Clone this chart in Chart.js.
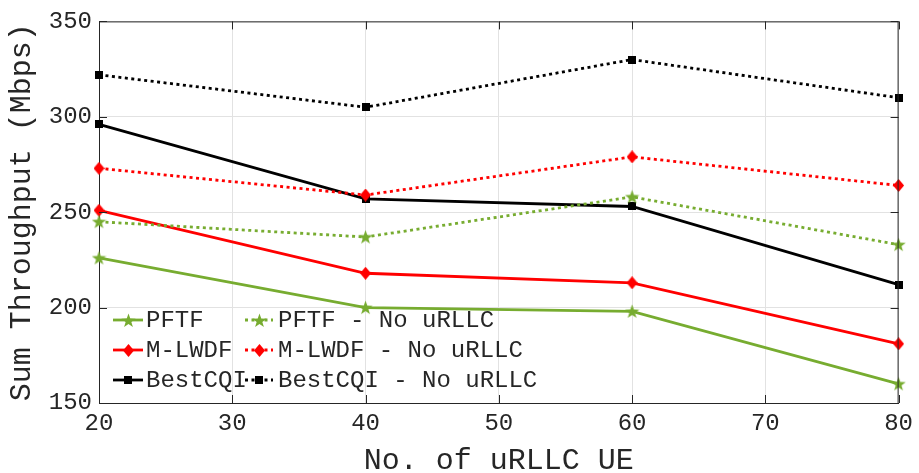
<!DOCTYPE html>
<html>
<head>
<meta charset="utf-8">
<script src="https://cdn.jsdelivr.net/npm/chart.js@4.4.1/dist/chart.umd.min.js"></script>
<style>
  html, body { margin: 0; padding: 0; background: #fff; }
  #wrap { width: 919px; height: 473px; }
</style>
</head>
<body>
<div id="wrap"><canvas id="chart" width="919" height="473"></canvas></div>
<script>
// values
const ueCounts = [20, 40, 60, 80];
const pftf = [226, 200, 198, 160];
const pftfNoUrllc = [245, 237, 258, 233];
const mlwdf = [251, 218, 213, 181];
const mlwdfNoUrllc = [273, 259, 279, 264];
const bestCqi = [296, 257, 253, 212];
const bestCqiNoUrllc = [322, 305, 330, 310];
const xTicks = [20, 30, 40, 50, 60, 70, 80];
const yTicks = [150, 200, 250, 300, 350];

const GREEN = '#77AC30';
const RED = '#FF0000';
const BLACK = '#000000';
const AXIS = '#262626';
const FONT = '"Liberation Mono", "Courier New", monospace';

Chart.defaults.font.family = FONT;
Chart.defaults.color = AXIS;

// marker images (filled star / diamond / square like the original plot)
function makeMarker(shape, color, w, h) {
    const c = document.createElement('canvas');
    c.width = w;
    c.height = h;
    const g = c.getContext('2d');
    g.fillStyle = color;
    g.beginPath();
    if (shape === 'star') {
        const cx = w / 2, cy = h / 2 + 0.5, ro = w / 2, ri = ro * 0.4;
        for (let i = 0; i < 10; i++) {
            const r = i % 2 === 0 ? ro : ri;
            const a = -Math.PI / 2 + i * Math.PI / 5;
            const px = cx + r * Math.cos(a), py = cy + r * Math.sin(a);
            if (i === 0) g.moveTo(px, py); else g.lineTo(px, py);
        }
        g.closePath();
    } else if (shape === 'diamond') {
        g.moveTo(w / 2, 0);
        g.lineTo(w, h / 2);
        g.lineTo(w / 2, h);
        g.lineTo(0, h / 2);
        g.closePath();
    } else {
        g.rect(0, 0, w, h);
    }
    g.fill();
    return c;
}

const starMark = makeMarker('star', GREEN, 15, 15);
const diamondMark = makeMarker('diamond', RED, 11, 13);
const squareMark = makeMarker('square', BLACK, 8, 8);

function toPoints(values) {
    return values.map((v, i) => ({ x: ueCounts[i], y: v }));
}

const DOTS = [3, 3.5];

const seriesDefs = [
    { label: 'PFTF', values: pftf, color: GREEN, mark: starMark, dash: [] },
    { label: 'PFTF - No uRLLC', values: pftfNoUrllc, color: GREEN, mark: starMark, dash: DOTS },
    { label: 'M-LWDF', values: mlwdf, color: RED, mark: diamondMark, dash: [] },
    { label: 'M-LWDF - No uRLLC', values: mlwdfNoUrllc, color: RED, mark: diamondMark, dash: DOTS },
    { label: 'BestCQI', values: bestCqi, color: BLACK, mark: squareMark, dash: [] },
    { label: 'BestCQI - No uRLLC', values: bestCqiNoUrllc, color: BLACK, mark: squareMark, dash: DOTS }
];

const datasets = seriesDefs.map(s => ({
    label: s.label,
    data: toPoints(s.values),
    borderColor: s.color,
    backgroundColor: s.color,
    borderWidth: 2.8,
    borderDash: s.dash,
    pointStyle: s.mark,
    pointRadius: 6,
    tension: 0,
    clip: false
}));

// box on top/right plus inward tick marks on all sides
const boxPlugin = {
    id: 'boxTicks',
    afterDraw(chart) {
        const { ctx, chartArea: a, scales } = chart;
        ctx.save();
        ctx.strokeStyle = AXIS;
        ctx.lineWidth = 1;
        ctx.beginPath();
        ctx.moveTo(a.left, a.top + 0.5);
        ctx.lineTo(a.right, a.top + 0.5);
        ctx.moveTo(a.right - 0.5, a.top);
        ctx.lineTo(a.right - 0.5, a.bottom);
        const len = 8;
        xTicks.forEach(v => {
            const px = Math.round(scales.x.getPixelForValue(v)) + 0.5;
            ctx.moveTo(px, a.bottom);
            ctx.lineTo(px, a.bottom - len);
            ctx.moveTo(px, a.top);
            ctx.lineTo(px, a.top + len);
        });
        yTicks.forEach(v => {
            const py = Math.round(scales.y.getPixelForValue(v)) + 0.5;
            ctx.moveTo(a.left, py);
            ctx.lineTo(a.left + len, py);
            ctx.moveTo(a.right, py);
            ctx.lineTo(a.right - len, py);
        });
        ctx.stroke();
        ctx.restore();
    }
};

// two-column legend inside the plot, bottom-left
const legendPlugin = {
    id: 'innerLegend',
    afterDatasetsDraw(chart) {
        const ctx = chart.ctx;
        const cols = [{ x0: 113, x1: 143, tx: 146 }, { x0: 245, x1: 273, tx: 278 }];
        const rows = [320, 350, 380];
        ctx.save();
        ctx.font = '24px ' + FONT;
        ctx.textBaseline = 'middle';
        ctx.textAlign = 'left';
        seriesDefs.forEach((s, i) => {
            const col = cols[i % 2];
            const y = rows[Math.floor(i / 2)];
            ctx.strokeStyle = s.color;
            ctx.lineWidth = 2.8;
            ctx.setLineDash(s.dash);
            ctx.beginPath();
            ctx.moveTo(col.x0, y);
            ctx.lineTo(col.x1, y);
            ctx.stroke();
            ctx.setLineDash([]);
            const cx = (col.x0 + col.x1) / 2;
            ctx.drawImage(s.mark, Math.round(cx - s.mark.width / 2), Math.round(y - s.mark.height / 2));
            ctx.fillStyle = AXIS;
            ctx.fillText(s.label, col.tx, y + 1);
        });
        ctx.restore();
    }
};

new Chart(document.getElementById('chart'), {
    type: 'line',
    data: { datasets: datasets },
    options: {
        responsive: false,
        animation: false,
        devicePixelRatio: 1,
        layout: { padding: { left: 0, right: 16, top: 19, bottom: 0 } },
        plugins: {
            legend: { display: false },
            tooltip: { enabled: false }
        },
        scales: {
            x: {
                type: 'linear',
                min: 20,
                max: 80,
                afterBuildTicks: scale => { scale.ticks = xTicks.map(v => ({ value: v })); },
                afterFit: scale => { scale.height = 70; },
                grid: { color: '#e2e2e2', drawTicks: false, tickLength: 0 },
                border: { color: AXIS, width: 1 },
                ticks: { padding: 6, font: { size: 24 }, maxRotation: 0 },
                title: {
                    display: true,
                    text: 'No. of uRLLC UE',
                    font: { size: 30, lineHeight: 0.8 },
                    padding: { top: 0, bottom: 0 }
                }
            },
            y: {
                min: 150,
                max: 350,
                afterBuildTicks: scale => { scale.ticks = yTicks.map(v => ({ value: v })); },
                afterFit: scale => { scale.width = 99; },
                grid: { color: '#e2e2e2', drawTicks: false, tickLength: 0 },
                border: { color: AXIS, width: 1 },
                ticks: { padding: 7, font: { size: 24 } },
                title: {
                    display: true,
                    text: 'Sum Throughput (Mbps)',
                    font: { size: 30, lineHeight: 1.2 },
                    padding: { top: 4, bottom: 0 }
                }
            }
        }
    },
    plugins: [boxPlugin, legendPlugin]
});
</script>
</body>
</html>
